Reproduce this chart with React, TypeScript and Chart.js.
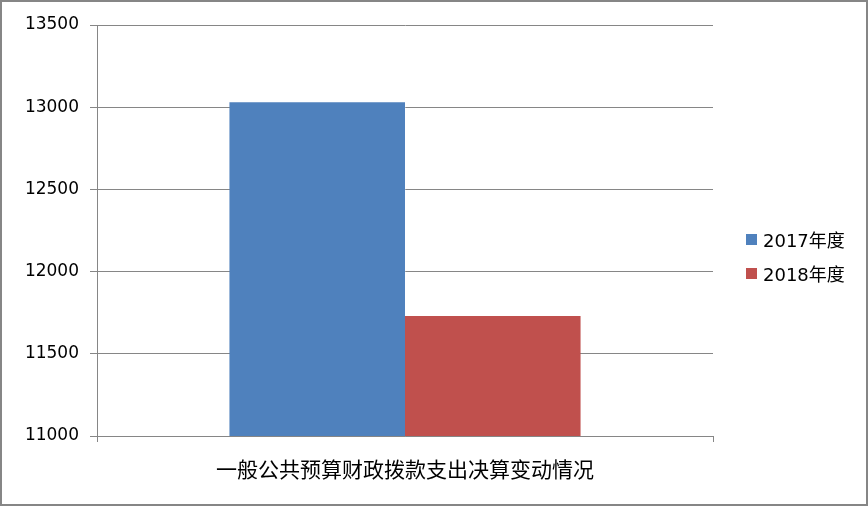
import { useEffect, useRef } from "react";
import { Chart, registerables } from "chart.js";

Chart.register(...registerables);

const categories = ["一般公共预算财政拨款支出决算变动情况"];
const seriesNames = ["2017年度", "2018年度"];
const values2017 = [13030];
const values2018 = [11730];
const yMin = 11000;
const yMax = 13500;
const yStep = 500;

const seriesColors = ["#4F81BD", "#C0504D"];
const axisGray = "#868686";

export default function App() {
  const canvasRef = useRef<HTMLCanvasElement>(null);
  const chartRef = useRef<Chart | null>(null);

  useEffect(() => {
    document.body.style.margin = "0";
    if (!canvasRef.current) return;
    const ctx = canvasRef.current.getContext("2d");
    if (!ctx) return;

    chartRef.current?.destroy();
    chartRef.current = new Chart(ctx, {
      type: "bar",
      data: {
        labels: categories,
        datasets: [
          {
            label: seriesNames[0],
            data: values2017,
            backgroundColor: seriesColors[0],
            barPercentage: 1,
            categoryPercentage: 0.57,
          },
          {
            label: seriesNames[1],
            data: values2018,
            backgroundColor: seriesColors[1],
            barPercentage: 1,
            categoryPercentage: 0.57,
          },
        ],
      },
      options: {
        responsive: true,
        maintainAspectRatio: false,
        animation: false,
        layout: { padding: { left: 0, right: 155, top: 25, bottom: 0 } },
        plugins: { legend: { display: false }, tooltip: { enabled: false } },
        scales: {
          y: {
            min: yMin,
            max: yMax,
            afterFit: (scale) => {
              scale.width = 97;
            },
            grid: { color: axisGray, tickColor: axisGray, tickLength: 7 },
            border: { color: axisGray },
            ticks: {
              stepSize: yStep,
              padding: 11,
              color: "#000",
              font: { family: "DejaVu Sans", size: 17 },
              callback: (v) => String(v),
            },
          },
          x: {
            afterFit: (scale) => {
              scale.height = 70;
            },
            grid: { drawOnChartArea: false, color: axisGray, tickColor: axisGray, tickLength: 6, offset: true },
            border: { color: axisGray },
            ticks: {
              padding: 14,
              color: "#000",
              font: { family: "Noto Sans CJK SC", size: 21 },
            },
          },
        },
      },
    });

    return () => chartRef.current?.destroy();
  }, []);

  return (
    <div style={{ position: "relative", width: 868, height: 506, background: "#fff" }}>
      <canvas ref={canvasRef} />
      <div
        style={{
          position: "absolute",
          inset: 0,
          border: `2px solid ${axisGray}`,
          pointerEvents: "none",
        }}
      />
      <div
        style={{
          position: "absolute",
          left: 746,
          top: 222,
          fontFamily: "'DejaVu Sans', 'Noto Sans CJK SC'",
          fontSize: 18,
          color: "#000",
        }}
      >
        {seriesNames.map((name, i) => (
          <div key={name} style={{ display: "flex", alignItems: "center", height: 34 }}>
            <span style={{ width: 11, height: 11, background: seriesColors[i], marginRight: 6 }} />
            {name}
          </div>
        ))}
      </div>
    </div>
  );
}
